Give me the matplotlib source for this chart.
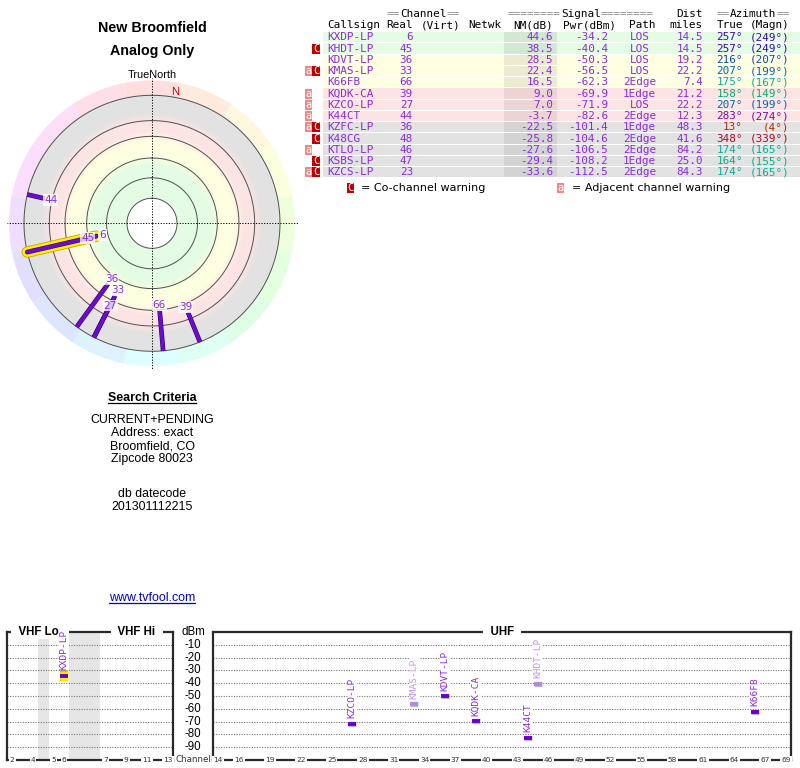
import numpy as np
import matplotlib
matplotlib.use("Agg")
import matplotlib.pyplot as plt
import matplotlib.patheffects as pe
from matplotlib.patches import Rectangle
from matplotlib.colors import LinearSegmentedColormap, hsv_to_rgb

# ---------------- data ----------------
callsigns = ["KXDP-LP", "KHDT-LP", "KDVT-LP", "KMAS-LP", "K66FB", "KQDK-CA", "KZCO-LP",
             "K44CT", "KZFC-LP", "K48CG", "KTLO-LP", "KSBS-LP", "KZCS-LP"]
real_ch = [6, 45, 36, 33, 66, 39, 27, 44, 36, 48, 46, 47, 23]
nm_db = [44.6, 38.5, 28.5, 22.4, 16.5, 9.0, 7.0, -3.7, -22.5, -25.8, -27.6, -29.4, -33.6]
pwr_dbm = [-34.2, -40.4, -50.3, -56.5, -62.3, -69.9, -71.9, -82.6, -101.4, -104.6, -106.5, -108.2, -112.5]
path_type = ["LOS", "LOS", "LOS", "LOS", "2Edge", "1Edge", "LOS", "2Edge", "1Edge", "2Edge",
             "2Edge", "1Edge", "2Edge"]
dist_mi = [14.5, 14.5, 19.2, 22.2, 7.4, 21.2, 22.2, 12.3, 48.3, 41.6, 84.2, 25.0, 84.3]
az_true = [257, 257, 216, 207, 175, 158, 207, 283, 13, 348, 174, 164, 174]
az_magn = [249, 249, 207, 199, 167, 149, 199, 274, 4, 339, 165, 155, 165]
warnings = ["", "C", "", "aC", "", "a", "a", "a", "aC", "C", "a", "C", "aC"]

band_limits = [35, 15, -10]          # NM(dB) thresholds: green / yellow / pink / gray
ring_levels = [-20, 3, 17.3, 37, 55, 73.6]   # NM(dB) of the polar circles
dbm_ticks = [-10, -20, -30, -40, -50, -60, -70, -80, -90]
vhf_tick_ch = [2, 4, 5, 6, 7, 9, 11, 13]
uhf_tick_ch = [14, 16, 19, 22, 25, 28, 31, 34, 37, 40, 43, 46, 49, 52, 55, 58, 61, 64, 67, 69]

title_lines = ["New Broomfield", "Analog Only"]
criteria_lines = ["CURRENT+PENDING", "Address: exact", "Broomfield, CO", "Zipcode 80023"]
datecode_lines = ["db datecode", "201301112215"]
site_url = "www.tvfool.com"

# ---------------- style ----------------
SANS = "Liberation Sans"
MONO = "DejaVu Sans Mono"
VER = "DejaVu Sans"
PURPLE_TXT = "#8a2be2"
LINE_COL = "#6a0dcc"
BAND_BG = ["#e3fce3", "#fefee0", "#fde4e4", "#e2e2e2"]
BAND_DK = ["#d2e8d2", "#ecebd2", "#ecd4d4", "#d3d3d3"]

fig = plt.figure(figsize=(8, 7.68), dpi=100)
bg = fig.add_axes([0, 0, 1, 1])
bg.set_xlim(0, 800)
bg.set_ylim(768, 0)
bg.axis("off")


def band_of(v):
    for k, lim in enumerate(band_limits):
        if v >= lim:
            return k
    return len(band_limits)


def hsv(h, s, v):
    return tuple(hsv_to_rgb([h % 1.0, s, v]))


def az_color(a):
    return hsv((a % 360) / 360.0, 0.95, 0.68)


# ---------------- left text ----------------
for k, s in enumerate(title_lines):
    bg.text(152, 28 + 23 * k, s, ha="center", va="center", fontsize=10.3,
            fontweight="bold", family=SANS)
bg.text(152, 75, "TrueNorth", ha="center", va="center", fontsize=7.8, family=SANS)
sc = bg.text(152, 398, "Search Criteria", ha="center", va="center", fontsize=8.9,
             fontweight="bold", family=SANS)
for k, s in enumerate(criteria_lines):
    bg.text(152, 420 + 13.1 * k, s, ha="center", va="center", fontsize=8.9, family=SANS)
for k, s in enumerate(datecode_lines):
    bg.text(152, 494 + 12.8 * k, s, ha="center", va="center", fontsize=8.9, family=SANS)
url = bg.text(152, 598, site_url, ha="center", va="center", fontsize=8.9, family=SANS,
              color="#0000cc")

renderer = fig.canvas.get_renderer()
inv = bg.transData.inverted()
for t, col in [(sc, "black"), (url, "#0000cc")]:
    bb = t.get_window_extent(renderer=renderer)
    (x0, y0), (x1, y1) = inv.transform([[bb.x0, bb.y0], [bb.x1, bb.y1]])
    bg.plot([x0, x1], [y0 - 1.0, y0 - 1.0], color=col, lw=0.9)

# ---------------- table ----------------
FS = 7.9
CW = 0.602 * FS * 100 / 72.0
ROW_Y0, ROW_H = 37.3, 11.25
GRAY = "#8c8c8c"


def segs(x, y, parts):
    off = 0
    for s, c in parts:
        bg.text(x + off * CW, y, s, ha="left", va="center", fontsize=FS, family=MONO, color=c)
        off += len(s)


segs(387, 14, [("==", GRAY), ("Channel", "black"), ("==", GRAY)])
segs(508, 14, [("========", GRAY), ("Signal", "black"), ("========", GRAY)])
bg.text(703, 14, "Dist", ha="right", va="center", fontsize=FS, family=MONO)
segs(717, 14, [("==", GRAY), ("Azimuth", "black"), ("==", GRAY)])

hdr = [("Callsign", 327, "left"), ("Real", 413, "right"), ("(Virt)", 421, "left"),
       ("Netwk", 468, "left"), ("NM(dB)", 553, "right"), ("Pwr(dBm)", 563, "left"),
       ("Path", 629, "left"), ("miles", 703, "right"), ("True", 743, "right"),
       ("(Magn)", 789, "right")]
for s, x, ha in hdr:
    bg.text(x, 25, s, ha=ha, va="center", fontsize=FS, family=MONO)

for i in range(len(callsigns)):
    y = ROW_Y0 + i * ROW_H
    b = band_of(nm_db[i])
    bg.add_patch(Rectangle((323, y - ROW_H / 2 + 0.5), 800 - 323, ROW_H - 1,
                           fc=BAND_BG[b], ec="none"))
    bg.add_patch(Rectangle((504, y - ROW_H / 2 + 0.5), 53, ROW_H - 1,
                           fc=BAND_DK[b], ec="none"))
    if "a" in warnings[i]:
        bg.add_patch(Rectangle((305, y - 5), 6.5, 10, fc="#f08888", ec="none"))
        bg.text(308.3, y, "a", ha="center", va="center", fontsize=7.5, family=MONO, color="white")
    if "C" in warnings[i]:
        bg.add_patch(Rectangle((312.3, y - 5), 7.2, 10, fc="#c00000", ec="none"))
        bg.text(315.9, y, "C", ha="center", va="center", fontsize=7.5, family=MONO, color="white")
    kw = dict(va="center", fontsize=FS, family=MONO, color=PURPLE_TXT)
    bg.text(327, y, callsigns[i], ha="left", **kw)
    bg.text(413, y, str(real_ch[i]), ha="right", **kw)
    bg.text(553, y, f"{nm_db[i]:.1f}", ha="right", **kw)
    bg.text(608, y, f"{pwr_dbm[i]:.1f}", ha="right", **kw)
    bg.text(639.5, y, path_type[i], ha="center", **kw)
    bg.text(703, y, f"{dist_mi[i]:.1f}", ha="right", **kw)
    ac = az_color(az_true[i])
    bg.text(743, y, f"{az_true[i]}°", ha="right", va="center", fontsize=FS, family=MONO, color=ac)
    bg.text(789, y, f"({az_magn[i]}°)", ha="right", va="center", fontsize=FS, family=MONO, color=ac)

# legend
bg.add_patch(Rectangle((347, 183), 7.2, 10, fc="#c00000", ec="none"))
bg.text(350.6, 188, "C", ha="center", va="center", fontsize=7.5, family=MONO, color="white")
bg.text(361, 188, "= Co-channel warning", ha="left", va="center", fontsize=8, family=VER)
bg.add_patch(Rectangle((557, 183), 6.5, 10, fc="#f08888", ec="none"))
bg.text(560.3, 188, "a", ha="center", va="center", fontsize=7.5, family=MONO, color="white")
bg.text(572, 188, "= Adjacent channel warning", ha="left", va="center", fontsize=8, family=VER)

# ---------------- polar plot ----------------
def nm_to_r(v):
    return 106.0 - 1.1 * np.asarray(v, dtype=float)


R_OUT, R_HUE, R_MAX = 128.0, 143.0, 147.0
cx, cy = 152.0, 223.3
ax_p = fig.add_axes([(cx - R_MAX) / 800, (768 - cy - R_MAX) / 768, 2 * R_MAX / 800, 2 * R_MAX / 768],
                    projection="polar")
ax_p.set_theta_zero_location("N")
ax_p.set_theta_direction(-1)
ax_p.set_axis_off()

r_in = float(nm_to_r(ring_levels[-1]))
ctrl = [(r_in, BAND_BG[0]), (58, BAND_BG[0]), (70, BAND_BG[1]), (82, BAND_BG[1]),
        (92, BAND_BG[2]), (101, BAND_BG[2]), (111, BAND_BG[3]), (R_OUT, BAND_BG[3])]
cmap = LinearSegmentedColormap.from_list(
    "bands", [((r - r_in) / (R_OUT - r_in), c) for r, c in ctrl])
rr = np.linspace(r_in, R_OUT, 150)
th = np.linspace(0, 2 * np.pi, 181)
C = np.tile(((rr[:-1] + rr[1:]) / 2)[:, None], (1, len(th) - 1))
ax_p.pcolormesh(th, rr, C, cmap=cmap, vmin=r_in, vmax=R_OUT, shading="flat",
                antialiased=False, zorder=0)

n_wedge = 16
wc = np.arange(n_wedge) * 360.0 / n_wedge
ax_p.bar(np.radians(wc), R_HUE - R_OUT, width=2 * np.pi / n_wedge, bottom=R_OUT,
         color=[hsv(a / 360.0, 0.13, 1.0) for a in wc], edgecolor="none",
         linewidth=0, zorder=0.5)

tt = np.linspace(0, 2 * np.pi, 361)
for lv in ring_levels:
    ax_p.plot(tt, np.full_like(tt, float(nm_to_r(lv))), color="#505050", lw=0.7, zorder=1)
for a in [0, 90, 180, 270]:
    ax_p.plot([np.radians(a)] * 2, [0, 145.5], color="black", lw=0.7,
              ls=(0, (1.2, 1.6)), zorder=1.5)
ax_p.text(np.radians(10), 133, "N", color="#dd0000", fontsize=8, family=SANS,
          ha="center", va="center", zorder=2)

shown = [i for i in range(len(callsigns)) if nm_to_r(nm_db[i]) < R_OUT]
order = sorted(shown, key=lambda i: nm_db[i])
dark = "#3a0070"
for i in order:
    ang = np.radians(az_true[i])
    re = float(nm_to_r(nm_db[i]))
    if i == 0:
        effects = [pe.Stroke(linewidth=8.2, foreground="#c0a800"),
                   pe.Stroke(linewidth=7, foreground="#ffee00"),
                   pe.Stroke(linewidth=3.4, foreground=dark), pe.Normal()]
        cap = "round"
    else:
        effects = [pe.Stroke(linewidth=3.4, foreground=dark), pe.Normal()]
        cap = "butt"
    ax_p.plot([ang, ang], [R_OUT, re], color=LINE_COL, lw=2.5, solid_capstyle=cap,
              path_effects=effects, zorder=3 + (1 if i == 0 else 0))

placed = []
for i in sorted(shown, key=lambda i: nm_to_r(nm_db[i])):
    rl = float(nm_to_r(nm_db[i])) - 6
    for a2, r2 in placed:
        if abs(a2 - az_true[i]) < 4 and abs(rl - r2) < 15:
            rl = r2 + 15
    placed.append((az_true[i], rl))
    ax_p.text(np.radians(az_true[i]), rl, str(real_ch[i]), ha="center", va="center",
              fontsize=7.5, family=VER, color=PURPLE_TXT, zorder=5,
              bbox=dict(boxstyle="square,pad=0.08", fc="white", ec="none", alpha=0.75))
ax_p.set_ylim(0, R_MAX)

# ---------------- spectrum ----------------
def vhf_pos(ch):
    if ch <= 4:
        return ch - 1.5
    if ch <= 6:
        return ch - 0.5
    return ch + 2.5


PX0, PX1 = 632.0, 760.0
hfrac = (PX1 - PX0) / 768
ax_v = fig.add_axes([7 / 800, (768 - PX1) / 768, 166 / 800, hfrac])
ax_u = fig.add_axes([213 / 800, (768 - PX1) / 768, 578 / 800, hfrac])
ax_v.set_xlim(0, 16)
ax_u.set_xlim(13.5, 69.5)
for ax in (ax_v, ax_u):
    ax.set_ylim(-100, 0)
    ax.set_xticks([])
    ax.set_yticks([])
    ax.patch.set_alpha(0)
    for sp in ax.spines.values():
        sp.set_linewidth(1.6)
        sp.set_color("#2a2a2a")
    xl = ax.get_xlim()
    ax.hlines(dbm_ticks, xl[0], xl[1], colors="#777777", lw=0.8, linestyles=(0, (1, 1.3)),
              zorder=1)

ax_v.axvspan(3, 4, color="#e6e6e6", lw=0, zorder=0)
ax_v.axvspan(6, 9, color="#e6e6e6", lw=0, zorder=0)

tb = dict(boxstyle="square,pad=0.05", fc="white", ec="none")
ax_v.text(2.7, 0, "  VHF Lo", ha="center", va="center", fontsize=8.3, fontweight="bold",
          family=SANS, bbox=tb, clip_on=False, zorder=7)
ax_v.text(12.5, 0, "  VHF Hi  ", ha="center", va="center", fontsize=8.3, fontweight="bold",
          family=SANS, bbox=tb, clip_on=False, zorder=7)
ax_u.text(41.5, 0, "  UHF  ", ha="center", va="center", fontsize=8.3, fontweight="bold",
          family=SANS, bbox=tb, clip_on=False, zorder=7)

lb = dict(boxstyle="square,pad=0.15", fc="white", ec="none")
for ch in vhf_tick_ch:
    ax_v.text(vhf_pos(ch), -100, str(ch), ha="center", va="center", fontsize=5.3,
              family=VER, color="#333333", bbox=lb, clip_on=False, zorder=5)
for ch in uhf_tick_ch:
    ax_u.text(ch, -100, str(ch), ha="center", va="center", fontsize=5.3,
              family=VER, color="#333333", bbox=lb, clip_on=False, zorder=5)

ytr = ax_v.get_yaxis_transform()
xlab = (193 - 7) / 166
ax_v.text(xlab, 0, "dBm", transform=ytr, ha="center", va="center", fontsize=8.3,
          family=SANS, clip_on=False)
for v in dbm_ticks:
    ax_v.text(xlab, v, str(v), transform=ytr, ha="center", va="center", fontsize=8.3,
              family=SANS, clip_on=False)
ax_v.text(xlab, -100, "Channel", transform=ytr, ha="center", va="center", fontsize=6.3,
          family=VER, color="#333333", clip_on=False)

for i in range(len(callsigns)):
    if pwr_dbm[i] < -100:
        continue
    ch = real_ch[i]
    ax = ax_v if ch <= 13 else ax_u
    x = vhf_pos(ch) if ch <= 13 else ch
    light = "C" in warnings[i]
    bar_c = "#b48ae6" if light else "#6a00cc"
    txt_c = "#c39af0" if light else PURPLE_TXT
    if i == 0:
        eff = [pe.Stroke(linewidth=7.5, foreground="#d8c400"),
               pe.Stroke(linewidth=6.2, foreground="#ffee00"), pe.Normal()]
    else:
        eff = [pe.Stroke(linewidth=3.8, foreground="#8a8a8a", alpha=0.6), pe.Normal()]
    ax.plot([x - 0.38, x + 0.38], [pwr_dbm[i]] * 2, color=bar_c, lw=2.8,
            solid_capstyle="butt", path_effects=eff, zorder=4)
    ax.text(x, pwr_dbm[i] + 4.5, callsigns[i], rotation=90, ha="center", va="bottom",
            fontsize=6.8, family=MONO, color=txt_c, zorder=6, clip_on=False,
            bbox=dict(boxstyle="square,pad=0.03", fc="white", ec="none"))

fig.savefig("out.png", dpi=100, facecolor="white")
